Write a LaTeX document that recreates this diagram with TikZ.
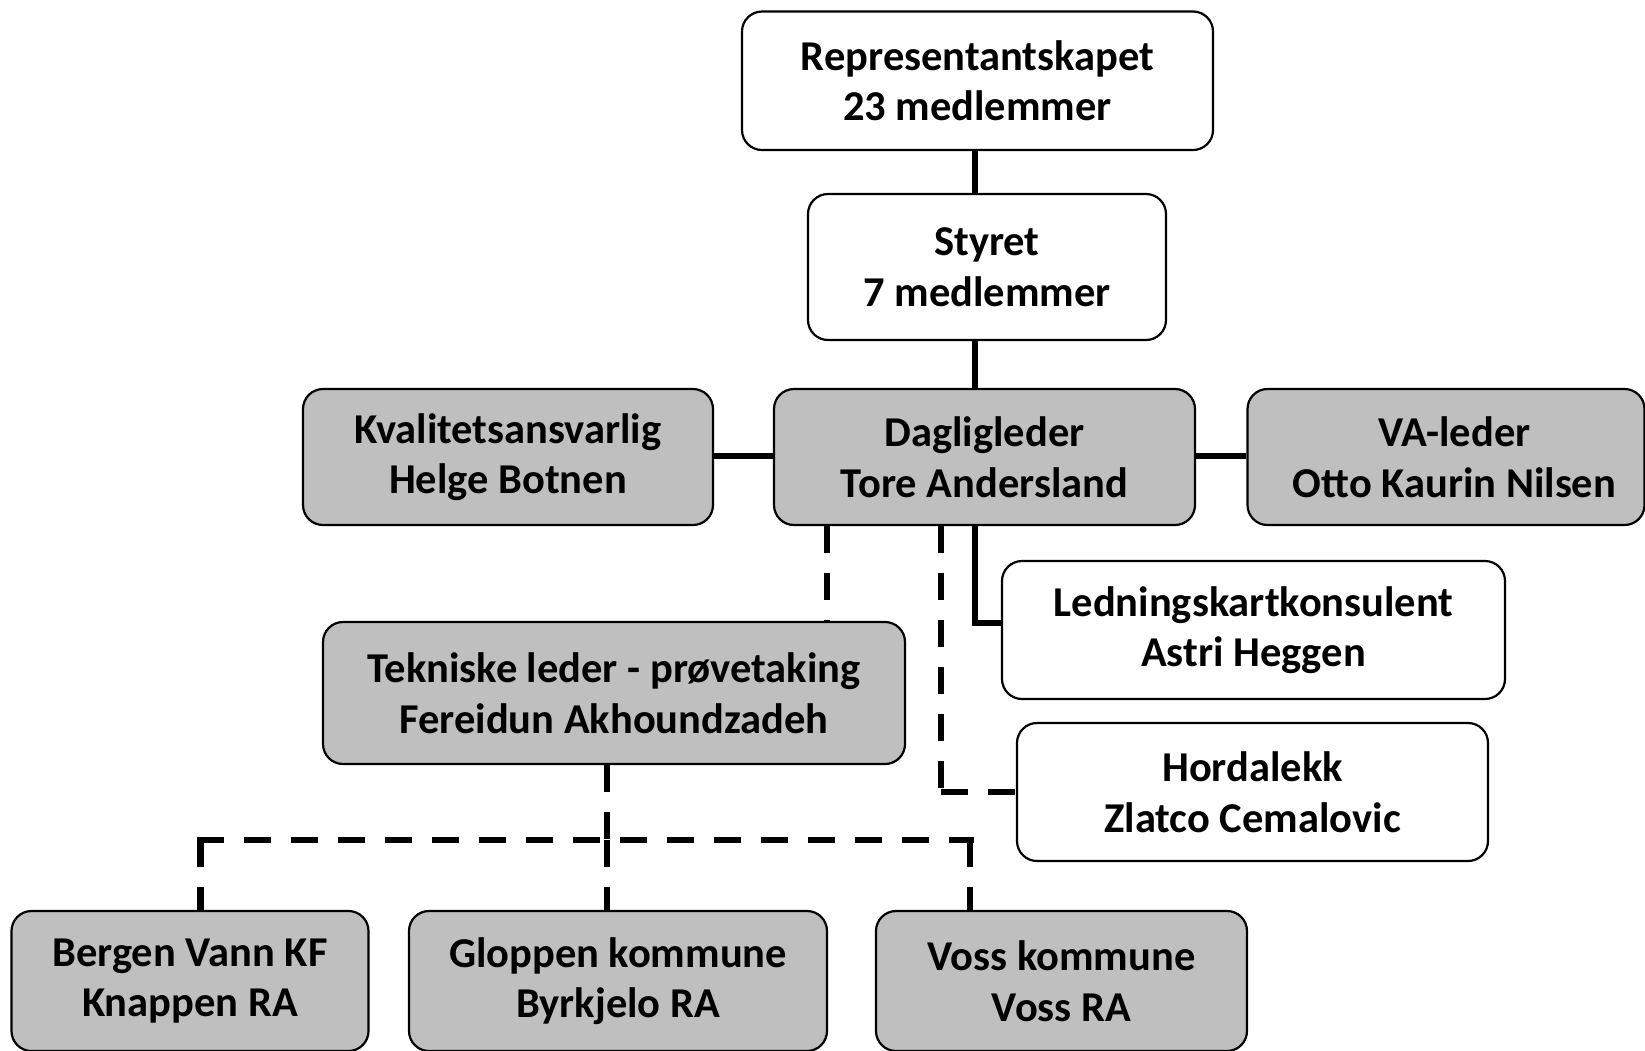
\documentclass[tikz,border=0pt]{standalone}
\usepackage{fontspec}
\setmainfont{Carlito}
\definecolor{boxgray}{RGB}{191,191,191}
\tikzset{
  box/.style={draw=black, line width=2.2pt, rounded corners=20pt, align=center,
    inner sep=0pt, font=\bfseries\fontsize{42.5}{50.5}\selectfont},
  gbox/.style={box, fill=boxgray},
  wbox/.style={box, fill=white},
  conn/.style={line width=6.6pt},
  dconn/.style={line width=6.6pt, dash pattern=on 27pt off 20pt},
}
\begin{document}
\begin{tikzpicture}[x=1pt,y=-1pt]
\useasboundingbox (0,0) rectangle (1645,1050);
% boxes
\node[wbox, minimum width=471pt, minimum height=138.5pt] (rep) at (977.5,80.75) {Representantskapet\\23 medlemmer};
\node[wbox, minimum width=358pt, minimum height=146pt] (sty) at (987,267) {Styret\\7 medlemmer};
\node[gbox, minimum width=410pt, minimum height=136pt] (kval) at (508,457) {Kvalitetsansvarlig\\Helge Botnen};
\node[gbox, minimum width=421pt, minimum height=136pt] (dag) at (984.5,457) {Dagligleder\\Tore Andersland};
\node[gbox, minimum width=397pt, minimum height=136pt] (va) at (1446,457) {\hspace*{17pt}VA-leder\\\hspace*{17pt}Otto Kaurin Nilsen};
\node[wbox, minimum width=503pt, minimum height=138pt] (led) at (1253.5,630) {Ledningskartkonsulent\\Astri Heggen};
\node[wbox, minimum width=471pt, minimum height=138pt] (hor) at (1252.5,792) {Hordalekk\\Zlatco Cemalovic};
\node[gbox, minimum width=582pt, minimum height=142pt] (tek) at (614,693) {Tekniske leder - prøvetaking\\Fereidun Akhoundzadeh};
\node[gbox, minimum width=357pt, minimum height=140pt] (berg) at (190,981) {Bergen Vann KF\\Knappen RA};
\node[gbox, minimum width=418pt, minimum height=140pt] (glop) at (618,981) {Gloppen kommune\\Byrkjelo RA};
\node[gbox, minimum width=371pt, minimum height=140pt] (voss) at (1061.5,981) {Voss kommune\\Voss RA};
% guide coordinates
\coordinate (xa) at (975,0);
\coordinate (xt) at (827,0);
\coordinate (xh) at (941,0);
\coordinate (xg) at (607,0);
\coordinate (xb) at (200.5,0);
\coordinate (xv) at (970,0);
\coordinate (barL) at (197,840);
\coordinate (barR) at (974,840);
\coordinate (cornH) at (xh |- hor.west);
% solid connectors
\draw[conn] (rep.south -| xa) -- (sty.north -| xa);
\draw[conn] (sty.south -| xa) -- (dag.north -| xa);
\draw[conn] (kval.east |- 0,456) -- (dag.west |- 0,456);
\draw[conn] (dag.east |- 0,456) -- (va.west |- 0,456);
\draw[conn] (dag.south -| xa) |- ([yshift=7pt]led.west);
% dashed connectors
\draw[dconn] (dag.south -| xt) -- (tek.north -| xt);
\draw[dconn] (dag.south -| xh) -- (cornH);
\draw[dconn] (cornH) -- (hor.west);
\draw[dconn] (tek.south -| xg) -- (xg |- barL);
\draw[dconn] (barL) -- (barR);
\draw[dconn] (xb |- barL) -- (berg.north -| xb);
\draw[dconn] (xg |- barL) -- (glop.north -| xg);
\draw[dconn] (xv |- barL) -- (voss.north -| xv);
\end{tikzpicture}
\end{document}
